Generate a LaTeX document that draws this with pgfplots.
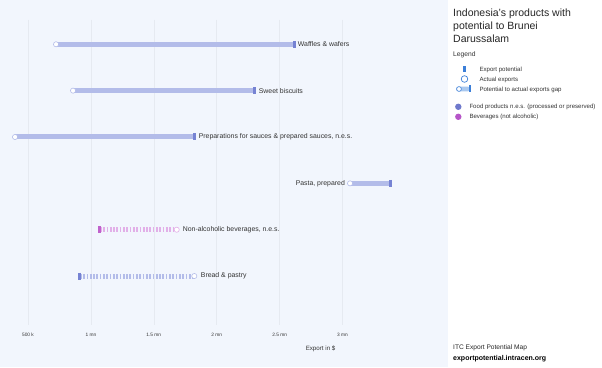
\documentclass[border=0pt]{standalone}
\usepackage{pgfplots}
\pgfplotsset{compat=1.18}
\usepackage{fontspec}
\setmainfont{Liberation Sans}
\definecolor{bg}{HTML}{F2F6FD}
\definecolor{gridc}{HTML}{E6EAF1}
\definecolor{foodbar}{HTML}{B3BCE9}
\definecolor{foodpot}{HTML}{7683D3}
\definecolor{bevbar}{HTML}{E2B0E8}
\definecolor{bevpot}{HTML}{C062CC}
\definecolor{textc}{HTML}{333333}
\definecolor{legblue}{HTML}{3C7FD8}
\definecolor{leglight}{HTML}{A9C8EF}
\definecolor{legfood}{HTML}{6F79CC}
\definecolor{legbev}{HTML}{B655C8}
\newcommand{\lblfont}{\fontsize{6.9}{8}\selectfont}
\newcommand{\legfont}{\fontsize{6.1}{7}\selectfont}
\begin{document}
\begin{tikzpicture}[x=1pt,y=1pt]
\fill[bg] (0,0) rectangle (448,367);
\fill[white] (448,0) rectangle (602,367);
\begin{axis}[at={(0pt,42pt)}, anchor=south west, scale only axis,
  width=445pt, height=305pt,
  xmin=0.2774, xmax=3.8148, ymin=0.476, ymax=7.056, y dir=reverse,
  axis line style={draw=none}, ytick=\empty,
  xtick={0.5,1,1.5,2,2.5,3},
  xticklabels={500 k,1 mn,1.5 mn,2 mn,2.5 mn,3 mn},
  xmajorgrids, grid style={gridc, line width=0.5pt},
  major tick length=0pt,
  xticklabel style={font=\fontsize{4.8}{5}\selectfont, text=textc, anchor=center, yshift=-10pt},
  xlabel={Export in \$},
  xlabel style={at={(axis description cs:0.7204,0)}, anchor=center, yshift=-24pt, font=\fontsize{6.2}{7}\selectfont, text=textc},
  clip=false]
% solid gaps (potential > actual)
\addplot[foodbar, line width=5pt] coordinates {(0.723,1) (2.615,1)};
\addplot[foodbar, line width=5pt] coordinates {(0.858,2) (2.304,2)};
\addplot[foodbar, line width=5pt] coordinates {(0.397,3) (1.827,3)};
\addplot[foodbar, line width=5pt] coordinates {(3.060,4) (3.385,4)};
% dashed (actual > potential)
\addplot[bevbar, line width=5pt, dash pattern=on 1.7pt off 1.6pt] coordinates {(1.072,5) (1.682,5)};
\addplot[foodbar, line width=5pt, dash pattern=on 1.7pt off 1.6pt] coordinates {(0.913,6) (1.822,6)};
% export potential markers
\addplot[only marks, mark=|, mark size=3.5pt, mark options={line width=3pt, foodpot}] coordinates {(2.615,1) (2.304,2) (1.827,3) (3.385,4) (0.913,6)};
\addplot[only marks, mark=|, mark size=3.5pt, mark options={line width=3pt, bevpot}] coordinates {(1.072,5)};
% actual exports markers
\addplot[only marks, mark=*, mark size=2.6pt, mark options={fill=white, draw=foodbar, line width=0.6pt}] coordinates {(0.723,1) (0.858,2) (0.397,3) (3.060,4) (1.822,6)};
\addplot[only marks, mark=*, mark size=2.6pt, mark options={fill=white, draw=bevbar, line width=0.6pt}] coordinates {(1.682,5)};
% labels
\node[anchor=west, inner sep=0pt, font=\lblfont, text=textc, xshift=3.7pt] at (axis cs:2.615,1) {Waffles \& wafers};
\node[anchor=west, inner sep=0pt, font=\lblfont, text=textc, xshift=3.7pt] at (axis cs:2.304,2) {Sweet biscuits};
\node[anchor=west, inner sep=0pt, font=\lblfont, text=textc, xshift=3.7pt] at (axis cs:1.827,3) {Preparations for sauces \& prepared sauces, n.e.s.};
\node[anchor=east, inner sep=0pt, font=\lblfont, text=textc, xshift=-5pt] at (axis cs:3.060,4) {Pasta, prepared};
\node[anchor=west, inner sep=0pt, font=\lblfont, text=textc, xshift=6pt] at (axis cs:1.682,5) {Non-alcoholic beverages, n.e.s.};
\node[anchor=west, inner sep=0pt, font=\lblfont, text=textc, xshift=6.4pt] at (axis cs:1.822,6) {Bread \& pastry};
\end{axis}
% right panel
\begin{scope}[every node/.style={inner sep=0pt, anchor=base west}]
\node[font=\fontsize{10.5}{13}\selectfont, text=black!85] at (453,367-16.8) {Indonesia's products with};
\node[font=\fontsize{10.5}{13}\selectfont, text=black!85] at (453,367-29.8) {potential to Brunei};
\node[font=\fontsize{10.5}{13}\selectfont, text=black!85] at (453,367-42.8) {Darussalam};
\node[font=\fontsize{6.7}{7}\selectfont, text=textc] at (453,367-56.3) {Legend};
\node[font=\legfont, text=textc] at (479.3,367-71.2) {Export potential};
\node[font=\legfont, text=textc] at (479.3,367-81.2) {Actual exports};
\node[font=\legfont, text=textc] at (479.3,367-91.2) {Potential to actual exports gap};
\node[font=\legfont, text=textc] at (469.3,367-108.8) {Food products n.e.s. (processed or preserved)};
\node[font=\legfont, text=textc] at (469.3,367-118.8) {Beverages (not alcoholic)};
\node[font=\fontsize{6.6}{7}\selectfont, text=black!85] at (453,367-349.3) {ITC Export Potential Map};
\node[font=\fontsize{7}{8}\selectfont\bfseries, text=black] at (453,367-360.5) {exportpotential.intracen.org};
\end{scope}
% legend icons
\fill[legblue] (463,367-72.5) rectangle (465.8,367-66.2);
\draw[legblue, line width=0.7pt, fill=white] (464.5,367-79) circle (3.3);
\fill[leglight, rounded corners=2pt] (456,367-91.3) rectangle (470,367-86.7);
\fill[legblue] (468.5,367-92.5) rectangle (471.2,367-85.5);
\draw[legblue, line width=0.6pt, fill=white] (459,367-89) circle (2.4);
\fill[legfood] (458.3,367-106.8) circle (3.2);
\fill[legbev] (458.3,367-116.8) circle (3.2);
\end{tikzpicture}
\end{document}
